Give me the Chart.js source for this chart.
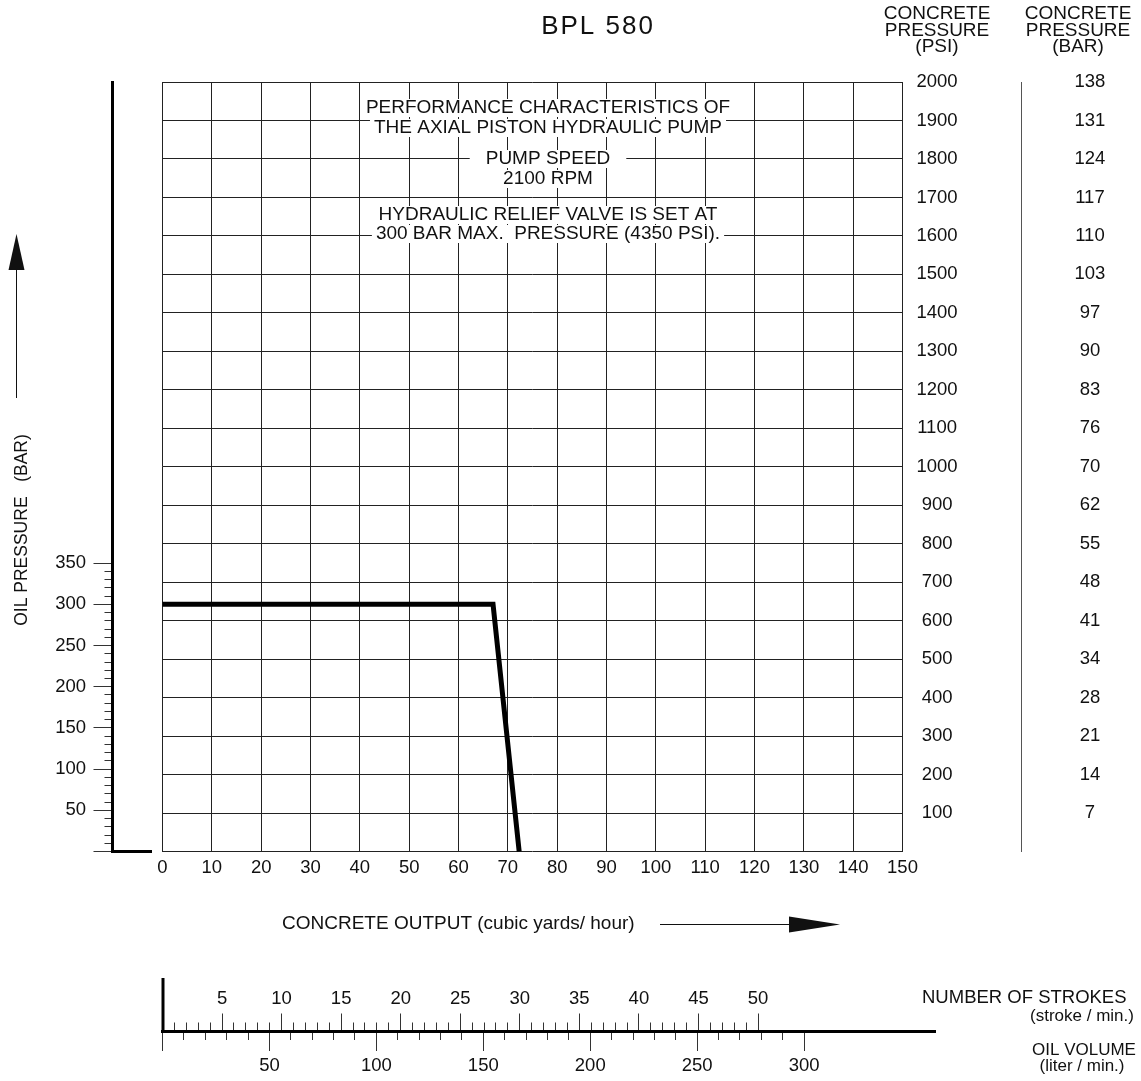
<!DOCTYPE html>
<html>
<head>
<meta charset="utf-8">
<script src="https://cdn.jsdelivr.net/npm/chart.js@4.4.0/dist/chart.umd.min.js"></script>
<style>
  html, body { margin: 0; padding: 0; background: #fff; }
  #wrap { position: relative; width: 1141px; height: 1081px; }
  #mainChart { position: absolute; left: 0; top: 0; }
  #scaleChart { position: absolute; left: 0; top: 960px; }
</style>
</head>
<body>
<div id="wrap">
  <canvas id="mainChart" width="1141" height="960"></canvas>
  <canvas id="scaleChart" width="1141" height="121"></canvas>
</div>
<script>
// chart data
const outputTicks = [0, 10, 20, 30, 40, 50, 60, 70, 80, 90, 100, 110, 120, 130, 140, 150];
const psiTicks = [100, 200, 300, 400, 500, 600, 700, 800, 900, 1000, 1100, 1200, 1300, 1400, 1500, 1600, 1700, 1800, 1900, 2000];
const barLabels = ["7", "14", "21", "28", "34", "41", "48", "55", "62", "70", "76", "83", "90", "97", "103", "110", "117", "124", "131", "138"];
const oilTicks = [50, 100, 150, 200, 250, 300, 350];
const strokeTicks = [5, 10, 15, 20, 25, 30, 35, 40, 45, 50];
const volumeTicks = [50, 100, 150, 200, 250, 300];

const outputValues = [0, 67, 72.3];   // cubic yards / hour
const oilPressure = [300, 300, 0];    // bar

const FONT = "'Liberation Sans', Arial, Helvetica, sans-serif";
Chart.defaults.font.family = FONT;
Chart.defaults.font.size = 18.5;
Chart.defaults.color = "#111";

function stepTicks(from, to, step) {
    const t = [];
    for (let v = from; v <= to; v += step) t.push({ value: v });
    return t;
}

const notes = [
    ["PERFORMANCE CHARACTERISTICS OF", 108, 4],
    ["THE AXIAL PISTON HYDRAULIC PUMP", 128, 4],
    ["PUMP SPEED", 159, 16],
    ["2100 RPM", 179, 4],
    ["HYDRAULIC RELIEF VALVE IS SET AT", 215, 4],
    ["300 BAR MAX.  PRESSURE (4350 PSI).", 234, 4]
];

function arrowHead(ctx, pts) {
    ctx.beginPath();
    ctx.moveTo(pts[0][0], pts[0][1]);
    ctx.lineTo(pts[1][0], pts[1][1]);
    ctx.lineTo(pts[2][0], pts[2][1]);
    ctx.closePath();
    ctx.fill();
}

const mainDecor = {
    id: "mainDecor",
    afterDraw(chart) {
        const ctx = chart.ctx;
        const area = chart.chartArea;
        ctx.save();
        ctx.fillStyle = "#111";
        ctx.strokeStyle = "#111";
        ctx.textAlign = "center";
        ctx.textBaseline = "middle";

        ctx.font = "26px " + FONT;
        ctx.letterSpacing = "2px";
        ctx.fillText("BPL 580", 598, 27);
        ctx.letterSpacing = "0px";

        ctx.font = "19px " + FONT;
        ["CONCRETE", "PRESSURE", "(PSI)"].forEach((t, i) => ctx.fillText(t, 937, 14 + i * 16.3));
        ["CONCRETE", "PRESSURE", "(BAR)"].forEach((t, i) => ctx.fillText(t, 1078, 14 + i * 16.3));

        // notes inside the grid
        notes.forEach(([t, y, pad]) => {
            const w = ctx.measureText(t).width;
            ctx.fillStyle = "#fff";
            ctx.fillRect(548 - w / 2 - pad, y - 9, w + pad * 2, 18);
            ctx.fillStyle = "#111";
            ctx.fillText(t, 548, y);
        });

        // y title + arrow
        ctx.save();
        ctx.font = "17.5px " + FONT;
        ctx.translate(22, 530);
        ctx.rotate(-Math.PI / 2);
        ctx.fillText("OIL PRESSURE   (BAR)", 0, 0);
        ctx.restore();
        ctx.lineWidth = 1;
        ctx.beginPath();
        ctx.moveTo(16.5, 398);
        ctx.lineTo(16.5, 268);
        ctx.stroke();
        arrowHead(ctx, [[8.5, 270], [24.5, 270], [16.5, 234]]);

        // x title + arrow
        ctx.textAlign = "left";
        ctx.fillText("CONCRETE OUTPUT (cubic yards/ hour)", 282, 924);
        ctx.beginPath();
        ctx.moveTo(660, 924.5);
        ctx.lineTo(792, 924.5);
        ctx.stroke();
        arrowHead(ctx, [[789, 916.5], [789, 932.5], [840, 924.5]]);

        // foot of the oil axis
        ctx.lineWidth = 3;
        ctx.strokeStyle = "#000";
        ctx.beginPath();
        ctx.moveTo(111, area.bottom);
        ctx.lineTo(152, area.bottom);
        ctx.stroke();
        ctx.restore();
    }
};

new Chart(document.getElementById("mainChart"), {
    type: "line",
    data: {
        datasets: [{
            data: outputValues.map((x, i) => ({ x: x, y: oilPressure[i] })),
            xAxisID: "x",
            yAxisID: "oil",
            borderColor: "#000",
            borderWidth: 5,
            borderJoinStyle: "miter",
            pointRadius: 0,
            tension: 0,
            fill: false,
            clip: false
        }]
    },
    options: {
        responsive: false,
        animation: false,
        devicePixelRatio: 1,
        layout: { padding: { top: 82, bottom: 68.5, left: 0, right: 0 } },
        plugins: { legend: { display: false }, tooltip: { enabled: false } },
        scales: {
            x: {
                type: "linear", position: "bottom", min: 0, max: 150,
                afterBuildTicks: s => { s.ticks = outputTicks.map(v => ({ value: v })); },
                afterFit: s => { s.height = 40; },
                ticks: { autoSkip: false, maxRotation: 0, minRotation: 0, padding: 5, callback: v => String(v) },
                grid: { color: "#222", lineWidth: 1, drawTicks: false },
                border: { color: "#222", width: 1 }
            },
            spacer: {
                type: "linear", position: "left", weight: 1,
                afterFit: s => { s.width = 50; },
                ticks: { display: false },
                grid: { display: false, drawTicks: false },
                border: { display: false }
            },
            oil: {
                type: "linear", position: "left", weight: 2, min: 0, max: 934,
                afterBuildTicks: s => { s.ticks = stepTicks(0, 350, 10); },
                afterFit: s => { s.width = 112.5; },
                ticks: {
                    autoSkip: false, padding: 7.5,
                    callback: v => oilTicks.includes(v) ? String(v) : ""
                },
                grid: {
                    drawOnChartArea: false, tickLength: 19, tickColor: "#333", tickWidth: 1,
                    tickBorderDash: c => (c.tick && c.tick.value % 50 === 0) ? [] : [0, 11, 12, 0]
                },
                border: { display: true, color: "#000", width: 3 }
            },
            psi: {
                type: "linear", position: "right", weight: 1, min: 0, max: 2000,
                afterBuildTicks: s => { s.ticks = psiTicks.map(v => ({ value: v })); },
                afterFit: s => { s.width = 119; },
                ticks: { autoSkip: false, padding: 14, crossAlign: "center", callback: v => String(v) },
                grid: { color: "#222", lineWidth: 1, drawTicks: false },
                border: { color: "#222", width: 1 }
            },
            barAxis: {
                type: "linear", position: "right", weight: 2, min: 0, max: 2000,
                afterBuildTicks: s => { s.ticks = psiTicks.map(v => ({ value: v })); },
                afterFit: s => { s.width = 119.5; },
                ticks: { autoSkip: false, padding: 53, crossAlign: "center", callback: (v, i) => barLabels[i] },
                grid: { drawOnChartArea: false, drawTicks: false },
                border: { color: "#555", width: 1 }
            }
        }
    },
    plugins: [mainDecor]
});

const scaleDecor = {
    id: "scaleDecor",
    afterDraw(chart) {
        const ctx = chart.ctx;
        const s = chart.scales.strokes;
        const x0 = Math.round(s.getPixelForValue(0));
        ctx.save();
        ctx.strokeStyle = "#000";
        ctx.lineWidth = 3;
        ctx.beginPath();
        ctx.moveTo(x0, 18);
        ctx.lineTo(x0, 72);
        ctx.stroke();
        ctx.fillStyle = "#111";
        ctx.font = "18.5px " + FONT;
        ctx.textBaseline = "middle";
        ctx.textAlign = "left";
        ctx.fillText("NUMBER OF STROKES", 922, 38);
        ctx.font = "17px " + FONT;
        ctx.textAlign = "center";
        ctx.fillText("(stroke / min.)", 1082, 56);
        ctx.fillText("OIL VOLUME", 1084, 90);
        ctx.fillText("(liter / min.)", 1082, 106);
        ctx.restore();
    }
};

new Chart(document.getElementById("scaleChart"), {
    type: "line",
    data: { datasets: [] },
    options: {
        responsive: false,
        animation: false,
        devicePixelRatio: 1,
        layout: { padding: { left: 162.5, right: 206, top: 0, bottom: 0 } },
        plugins: { legend: { display: false }, tooltip: { enabled: false } },
        scales: {
            strokes: {
                type: "linear", position: "top", min: 0, max: 64.86,
                afterBuildTicks: s => { s.ticks = stepTicks(1, 50, 1); },
                afterFit: s => { s.height = 71.5; },
                ticks: {
                    autoSkip: false, maxRotation: 0, minRotation: 0, padding: 3,
                    callback: v => strokeTicks.includes(v) ? String(v) : ""
                },
                grid: {
                    drawOnChartArea: false, tickLength: 18, tickColor: "#333", tickWidth: 1,
                    tickBorderDash: c => (c.tick && c.tick.value % 5 === 0) ? [] : [0, 9, 12, 0]
                },
                border: { color: "#000", width: 3 }
            },
            volume: {
                type: "linear", position: "bottom", min: 0, max: 361.2,
                afterBuildTicks: s => { s.ticks = stepTicks(0, 300, 10); },
                afterFit: s => { s.height = 49; },
                ticks: {
                    autoSkip: false, maxRotation: 0, minRotation: 0, padding: 4,
                    callback: v => volumeTicks.includes(v) ? String(v) : ""
                },
                grid: {
                    drawOnChartArea: false, tickLength: 19, tickColor: "#333", tickWidth: 1,
                    tickBorderDash: c => (c.tick && c.tick.value % 50 === 0) ? [] : [8, 40]
                },
                border: { display: false }
            }
        }
    },
    plugins: [scaleDecor]
});
</script>
</body>
</html>
